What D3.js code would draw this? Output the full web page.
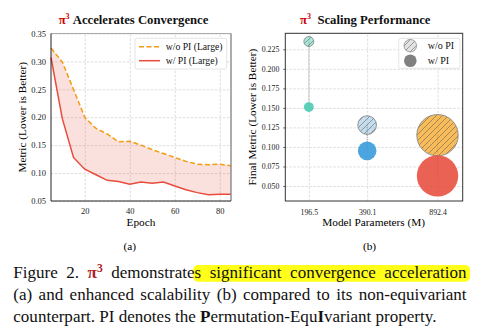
<!DOCTYPE html>
<html><head><meta charset="utf-8">
<script src="https://cdn.jsdelivr.net/npm/d3@7"></script>
</head><body style="margin:0;background:#fff">
<svg id="fig" width="484" height="333" style="display:block;font-family:'Liberation Serif'"></svg>
<script>
// (a) convergence curves
const epochs = [5,10,15,20,25,30,35,40,45,50,55,60,65,70,75,80,85];
const lossWithoutPI = [0.324,0.299,0.250,0.200,0.180,0.170,0.156,0.157,0.150,0.142,0.135,0.128,0.121,0.116,0.115,0.116,0.113];
const lossWithPI    = [0.307,0.198,0.128,0.107,0.097,0.087,0.085,0.080,0.084,0.082,0.084,0.077,0.070,0.065,0.061,0.062,0.062];
const epochTicks = [20,40,60,80];
const metricTicks = [0.05,0.10,0.15,0.20,0.25,0.30,0.35];

// (b) scaling bubbles
const modelParams = [196.5, 390.1, 892.4];
const finalWithoutPI = [0.235, 0.128, 0.115];
const finalWithPI = [0.151, 0.095, 0.063];
const finalTicks = [0.050,0.075,0.100,0.125,0.150,0.175,0.200,0.225];
const colorsWithoutPI = ["#48c9b0","#7fb3d5","#f5a623"];
const colorsWithPI = ["#48c9b0","#3498db","#e74c3c"];

const RED = "#e74c3c", ORANGE = "#f39c12", PI_RED = "#cc0000";
const SERIF = '"Liberation Serif"';

const svg = d3.select("#fig");
const defs = svg.append("defs");
const hatch = defs.append("pattern").attr("id","hatch")
  .attr("patternUnits","userSpaceOnUse").attr("width",6).attr("height",6);
hatch.append("path").attr("d","M-1,1 L1,-1 M0,6 L6,0 M5,7 L7,5")
  .attr("stroke","#555").attr("stroke-width",0.8).attr("stroke-opacity",0.65);

function styleAxis(g, size){
  g.attr("font-family",null);
  g.select(".domain").remove();
  g.selectAll(".tick line").attr("stroke","#333").attr("stroke-width",0.8);
  g.selectAll(".tick text").attr("font-size",size).attr("fill","#222");
}
function grid(g){
  g.select(".domain").remove();
  g.selectAll(".tick line").attr("stroke","#d6d6d6").attr("stroke-width",0.8)
    .attr("stroke-dasharray","2.5,1.5");
}
function titleWithPi(x, y, label){
  const t = svg.append("text").attr("x",x).attr("y",y).attr("text-anchor","middle")
    .attr("font-size",12.7).attr("font-weight","bold").attr("fill","#111");
  t.append("tspan").text("π").attr("fill",PI_RED);
  t.append("tspan").text("3").attr("fill",PI_RED).attr("font-size",8).attr("dy",-5);
  t.append("tspan").text(label).attr("dy",5);
  return t;
}

// ---------- panel (a) ----------
const A = {l:51, r:231, t:33.5, b:201};
const xA = d3.scaleLinear().domain([5,85]).range([A.l,A.r]);
const yA = d3.scaleLinear().domain([0.05,0.35]).range([A.b,A.t]);
const gA = svg.append("g");

gA.append("g").attr("transform",`translate(0,${A.b})`)
  .call(d3.axisBottom(xA).tickValues(epochTicks).tickSize(-(A.b-A.t)).tickFormat(""))
  .call(grid);
gA.append("g").attr("transform",`translate(${A.l},0)`)
  .call(d3.axisLeft(yA).tickValues(metricTicks).tickSize(-(A.r-A.l)).tickFormat(""))
  .call(grid);

const area = d3.area().x((d,i)=>xA(epochs[i])).y0((d,i)=>yA(lossWithPI[i])).y1((d,i)=>yA(lossWithoutPI[i]));
gA.append("path").datum(epochs).attr("d",area).attr("fill",RED).attr("fill-opacity",0.17);

const lineA = vals => d3.line().x((d,i)=>xA(epochs[i])).y((d,i)=>yA(vals[i]))(epochs);
gA.append("path").attr("d",lineA(lossWithoutPI)).attr("fill","none").attr("stroke",ORANGE)
  .attr("stroke-width",1.5).attr("stroke-dasharray","5,2.5");
gA.append("path").attr("d",lineA(lossWithPI)).attr("fill","none").attr("stroke",RED)
  .attr("stroke-width",1.5);

// spines
gA.append("line").attr("x1",A.l).attr("x2",A.r).attr("y1",A.t).attr("y2",A.t).attr("stroke","#aaa").attr("stroke-width",1);
gA.append("line").attr("x1",A.r).attr("x2",A.r).attr("y1",A.t).attr("y2",A.b).attr("stroke","#888").attr("stroke-width",1.4);
gA.append("line").attr("x1",A.l).attr("x2",A.l).attr("y1",A.t).attr("y2",A.b).attr("stroke","#222").attr("stroke-width",1);
gA.append("line").attr("x1",A.l).attr("x2",A.r).attr("y1",A.b).attr("y2",A.b).attr("stroke","#222").attr("stroke-width",1);

gA.append("g").attr("transform",`translate(0,${A.b})`)
  .call(d3.axisBottom(xA).tickValues(epochTicks).tickSize(0).tickPadding(7))
  .call(g=>styleAxis(g,8.5));
gA.append("g").attr("transform",`translate(${A.l},0)`)
  .call(d3.axisLeft(yA).tickValues(metricTicks).tickFormat(d3.format(".2f")).tickSize(0).tickPadding(5))
  .call(g=>styleAxis(g,8.5));

// legend (a)
const legA = gA.append("g");
legA.append("rect").attr("x",135).attr("y",38.3).attr("width",91.7).attr("height",30.7).attr("rx",2)
  .attr("fill","#fff").attr("fill-opacity",0.9).attr("stroke","#ddd").attr("stroke-width",0.8);
[["w/o PI (Large)",ORANGE,"5,2.5"],["w/ PI (Large)",RED,null]].forEach((e,i)=>{
  const y = 46.7 + i*14;
  legA.append("line").attr("x1",139).attr("x2",160).attr("y1",y).attr("y2",y)
    .attr("stroke",e[1]).attr("stroke-width",1.5).attr("stroke-dasharray",e[2]);
  legA.append("text").attr("x",165.7).attr("y",y+3.3).attr("font-size",9.7).attr("fill","#111").text(e[0]);
});

titleWithPi(133.5, 24, " Accelerates Convergence");
svg.append("text").attr("x",141).attr("y",226).attr("text-anchor","middle").attr("font-size",11.3).text("Epoch");
svg.append("text").attr("transform",`translate(26.3,${(A.t+A.b)/2}) rotate(-90)`).attr("text-anchor","middle")
  .attr("font-size",11.3).text("Metric (Lower is Better)");
svg.append("text").attr("x",129.7).attr("y",249.5).attr("text-anchor","middle").attr("font-size",11.3).text("(a)");

// ---------- panel (b) ----------
const B = {l:285.3, r:462.7, t:33.3, b:201};
const xB = d3.scaleLog().domain([149,1200]).range([B.l,B.r]);
const yB = d3.scaleLinear().domain([0.0308,0.2455]).range([B.b,B.t]);
const rB = d3.scaleLinear().domain([0,892.4]).range([0.5,20.7]);
const gB = svg.append("g");

gB.append("g").attr("transform",`translate(0,${B.b})`)
  .call(d3.axisBottom(xB).tickValues(modelParams).tickSize(-(B.b-B.t)).tickFormat(""))
  .call(grid);
gB.append("g").attr("transform",`translate(${B.l},0)`)
  .call(d3.axisLeft(yB).tickValues(finalTicks).tickSize(-(B.r-B.l)).tickFormat(""))
  .call(grid);

// connectors between paired runs
gB.append("g").selectAll("line").data(modelParams).join("line")
  .attr("x1",d=>xB(d)).attr("x2",d=>xB(d))
  .attr("y1",(d,i)=>yB(finalWithoutPI[i])).attr("y2",(d,i)=>yB(finalWithPI[i]))
  .attr("stroke","#999").attr("stroke-width",1).attr("stroke-dasharray","1,1");

const bubbles = gB.append("g").selectAll("g").data(modelParams).join("g");
// w/o PI: pale fill + hatch + grey edge
bubbles.append("circle").attr("cx",d=>xB(d)).attr("cy",(d,i)=>yB(finalWithoutPI[i])).attr("r",d=>rB(d))
  .attr("fill",(d,i)=>colorsWithoutPI[i]).attr("fill-opacity",(d,i)=>i===2?0.75:0.45);
bubbles.append("circle").attr("cx",d=>xB(d)).attr("cy",(d,i)=>yB(finalWithoutPI[i])).attr("r",d=>rB(d))
  .attr("fill","url(#hatch)").attr("stroke","#888").attr("stroke-width",0.9);
// w/ PI: solid fill
bubbles.append("circle").attr("cx",d=>xB(d)).attr("cy",(d,i)=>yB(finalWithPI[i])).attr("r",d=>rB(d))
  .attr("fill",(d,i)=>colorsWithPI[i]).attr("fill-opacity",0.88);

gB.append("rect").attr("x",B.l).attr("y",B.t).attr("width",B.r-B.l).attr("height",B.b-B.t)
  .attr("fill","none").attr("stroke","#333").attr("stroke-width",1);

gB.append("g").attr("transform",`translate(0,${B.b})`)
  .call(d3.axisBottom(xB).tickValues(modelParams).tickFormat(d3.format(".1f")).tickSize(0).tickPadding(8))
  .call(g=>styleAxis(g,7.8));
gB.append("g").attr("transform",`translate(${B.l},0)`)
  .call(d3.axisLeft(yB).tickValues(finalTicks).tickFormat(d3.format(".3f")).tickSize(2).tickPadding(4))
  .call(g=>styleAxis(g,7.8));

// legend (b)
const legB = gB.append("g");
legB.append("rect").attr("x",398.7).attr("y",38.3).attr("width",61.3).attr("height",30).attr("rx",2)
  .attr("fill","#fff").attr("fill-opacity",0.9).attr("stroke","#ddd").attr("stroke-width",0.8);
legB.append("circle").attr("cx",410.3).attr("cy",45.7).attr("r",6.3).attr("fill","#e2e2e2");
legB.append("circle").attr("cx",410.3).attr("cy",45.7).attr("r",6.3).attr("fill","url(#hatch)").attr("stroke","#999").attr("stroke-width",0.9);
legB.append("circle").attr("cx",410.3).attr("cy",60.8).attr("r",6.3).attr("fill","#808080");
legB.append("text").attr("x",427.7).attr("y",49.2).attr("font-size",10).attr("fill","#111").text("w/o PI");
legB.append("text").attr("x",427.7).attr("y",64.3).attr("font-size",10).attr("fill","#111").text("w/ PI");

titleWithPi(365.3, 24, "  Scaling Performance").attr("xml:space","preserve");
svg.append("text").attr("x",373.7).attr("y",226).attr("text-anchor","middle").attr("font-size",11.3).text("Model Parameters (M)");
svg.append("text").attr("transform",`translate(255.8,${(B.t+B.b)/2}) rotate(-90)`).attr("text-anchor","middle")
  .attr("font-size",11.3).text("Final Metric (Lower is Better)");
svg.append("text").attr("x",369.5).attr("y",249.5).attr("text-anchor","middle").attr("font-size",11.3).text("(b)");

// ---------- caption ----------
const capX = 13.3, capRight = 466.6, capBase = [278.3, 300.3, 322.3];
const hl = svg.append("rect").attr("fill","#ffff1a").attr("rx",5);
const l1 = svg.append("text").attr("x",capX).attr("y",capBase[0]);
l1.append("tspan").text("Figure 2. ");
l1.append("tspan").text("π").attr("fill","#b01e1e").attr("font-weight","bold");
const sup = l1.append("tspan").text("3").attr("fill","#b01e1e").attr("font-weight","bold").attr("dy",-6);
l1.append("tspan").text(" demonstrate").attr("dy",6);
l1.append("tspan").text("s significant convergence acceleration");
const l2 = svg.append("text").attr("x",capX).attr("y",capBase[1])
  .text("(a) and enhanced scalability (b) compared to its non-equivariant");
const l3 = svg.append("text").attr("x",capX).attr("y",capBase[2]);
l3.append("tspan").text("counterpart. PI denotes the ");
l3.append("tspan").text("P").attr("font-weight","bold");
l3.append("tspan").text("ermutation-Equ");
l3.append("tspan").text("I").attr("font-weight","bold");
l3.append("tspan").text("variant property.");

// every label uses the serif face, set inline so axis defaults don't override it
svg.selectAll("g").attr("font-family", null);
svg.selectAll("text").attr("font-family", "Liberation Serif").style("font-family", SERIF);

const caps = [l1,l2,l3];
caps.forEach(t=>t.attr("font-size",16).attr("fill","#111"));
sup.attr("font-size",11);
const natural3 = l3.node().getComputedTextLength();
const capSize = 16 * (436.7 - capX) / natural3;
caps.forEach(t=>t.attr("font-size",capSize));
sup.attr("font-size",capSize*0.68);
[l1,l2].forEach(t=>{
  const w = t.node().getComputedTextLength();
  const spaces = (t.text().match(/ /g)||[]).length;
  t.attr("word-spacing",(capRight-capX-w)/spaces);
});
// highlight box behind the emphasised phrase
const n1 = l1.node();
const full = l1.text();
const startIdx = full.indexOf("s significant");
const p0 = n1.getStartPositionOfChar(startIdx);
const p1 = n1.getEndPositionOfChar(full.length-1);
hl.attr("x",p0.x-1.5).attr("y",capBase[0]-13.3).attr("width",p1.x-p0.x+5).attr("height",16.8);
</script>
</body></html>
